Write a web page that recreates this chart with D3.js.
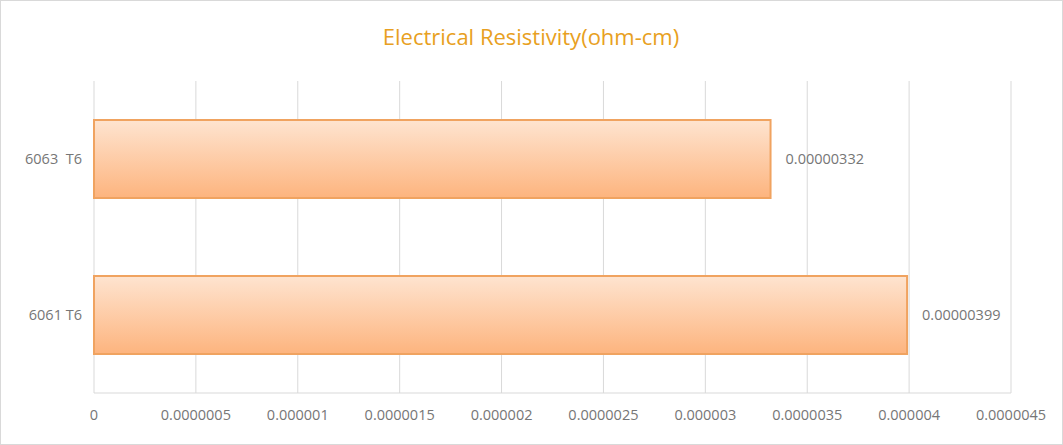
<!DOCTYPE html><html><head><meta charset="utf-8">
<script src="https://cdn.jsdelivr.net/npm/d3@7"></script>
<style>body{margin:0;background:#fff}svg{display:block}</style></head><body>
<svg id="c" width="1063" height="445"></svg>
<script>
const categories=["6063  T6","6061 T6"];
const values=[0.00000332,0.00000399];
const labels=["0.00000332","0.00000399"];
const ticks=[0,0.0000005,0.000001,0.0000015,0.000002,0.0000025,0.000003,0.0000035,0.000004,0.0000045];
const tickLabels=["0","0.0000005","0.000001","0.0000015","0.000002","0.0000025","0.000003","0.0000035","0.000004","0.0000045"];
const svg=d3.select("#c");
const f="'Open Sans', sans-serif";
svg.append("rect").attr("x",0.5).attr("y",0.5).attr("width",1062).attr("height",444).attr("fill","#fff").attr("stroke","#d9d9d9");
const defs=svg.append("defs");
const g=defs.append("linearGradient").attr("id","gr").attr("x1",0).attr("y1",0).attr("x2",0).attr("y2",1);
g.append("stop").attr("offset","0%").attr("stop-color","#fee4d0");
g.append("stop").attr("offset","100%").attr("stop-color","#fdb47e");
const x=d3.scaleLinear().domain([0,0.0000045]).range([94,1011]);
const band=d3.scaleBand().domain(categories).range([81,393]).paddingInner(0.5).paddingOuter(0.25);
svg.append("text").attr("x",531).attr("y",45).attr("text-anchor","middle").attr("font-family",f).attr("font-size",22).attr("fill","#e8a021").text("Electrical Resistivity(ohm-cm)");
svg.selectAll(".gl").data(ticks).enter().append("line").attr("x1",d=>x(d)).attr("x2",d=>x(d)).attr("y1",81).attr("y2",393).attr("stroke","#d9d9d9");
svg.append("line").attr("x1",94).attr("x2",1011).attr("y1",393).attr("y2",393).attr("stroke","#d9d9d9");
svg.selectAll(".tl").data(ticks).enter().append("text").attr("x",d=>x(d)).attr("y",420).attr("text-anchor","middle").attr("font-family",f).attr("font-size",14.5).attr("fill","#767676").text((d,i)=>tickLabels[i]);
svg.selectAll(".b").data(values).enter().append("rect").attr("x",x(0)).attr("y",(d,i)=>band(categories[i])).attr("width",d=>x(d)-x(0)).attr("height",band.bandwidth()).attr("fill","url(#gr)").attr("stroke","#f0a360").attr("stroke-width",2);
svg.selectAll(".cl").data(categories).enter().append("text").attr("x",82).attr("y",d=>band(d)+band.bandwidth()/2+5).attr("text-anchor","end").attr("font-family",f).attr("font-size",14.5).attr("fill","#767676").attr("xml:space","preserve").style("white-space","pre").text(d=>d);
svg.selectAll(".vl").data(values).enter().append("text").attr("x",d=>x(d)+15).attr("y",(d,i)=>band(categories[i])+band.bandwidth()/2+5).attr("font-family",f).attr("font-size",14.5).attr("fill","#767676").text((d,i)=>labels[i]);
</script></body></html>
